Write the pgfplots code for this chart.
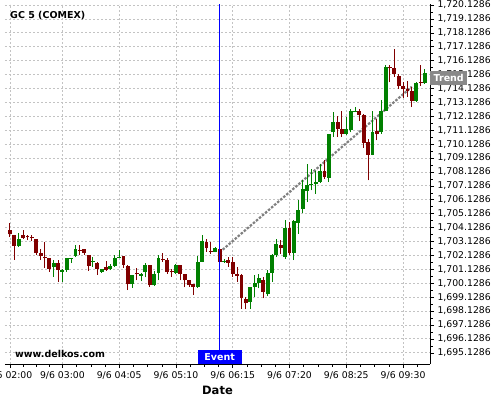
\documentclass[border=0pt]{standalone}
\usepackage{pgfplots}
\usepackage{pgfplotstable}
\pgfplotsset{compat=1.18}
\usepackage{fontspec}
\setmainfont{DejaVu Sans}
\definecolor{cgreen}{RGB}{0,128,0}
\definecolor{cred}{RGB}{128,0,0}
\definecolor{gridc}{RGB}{195,195,195}
\definecolor{trendc}{RGB}{128,128,128}
\definecolor{trendbox}{RGB}{136,136,136}

\pgfplotstableread{
m O H L C
10 1702.80 1703.76 1702.73 1703.33
50 1701.30 1701.83 1700.58 1701.61
60 1700.94 1701.12 1700.22 1701.08
65 1701.08 1701.92 1700.94 1701.92
70 1701.87 1701.94 1701.58 1701.94
75 1702.09 1702.91 1702.00 1702.57
95 1701.66 1702.01 1701.30 1701.73
105 1700.94 1701.13 1700.87 1701.13
115 1701.13 1701.54 1701.06 1701.37
120 1701.37 1702.19 1701.32 1701.94
125 1701.94 1702.50 1701.94 1702.01
140 1700.04 1700.75 1699.79 1700.75
150 1700.65 1700.85 1700.27 1700.82
155 1700.94 1701.61 1700.54 1701.42
165 1699.98 1701.01 1699.91 1700.77
170 1700.87 1702.14 1700.34 1701.94
190 1700.87 1701.49 1700.80 1701.42
215 1699.86 1702.09 1699.79 1701.66
220 1701.66 1703.62 1701.64 1703.16
235 1702.38 1702.70 1702.35 1702.64
245 1701.69 1701.90 1701.58 1701.76
275 1698.79 1699.87 1698.31 1699.82
280 1699.82 1700.70 1699.15 1700.11
285 1700.11 1700.82 1699.75 1700.49
295 1699.34 1701.06 1699.20 1700.89
300 1700.89 1702.26 1700.23 1702.14
305 1702.14 1703.33 1702.02 1702.93
315 1702.02 1704.65 1701.90 1704.12
325 1702.31 1704.65 1701.78 1704.58
330 1704.46 1706.08 1703.69 1705.37
335 1705.49 1707.52 1705.17 1706.87
340 1706.75 1708.71 1705.96 1707.16
345 1707.19 1708.35 1706.80 1707.26
350 1707.23 1708.23 1706.56 1707.40
355 1707.40 1708.71 1707.33 1708.23
365 1707.71 1710.87 1707.40 1710.82
370 1710.98 1712.47 1710.63 1711.75
385 1710.87 1712.06 1710.75 1711.18
390 1711.15 1712.66 1710.98 1712.49
395 1712.46 1712.78 1712.42 1712.53
415 1709.38 1712.54 1709.31 1710.98
425 1710.98 1713.30 1710.87 1712.54
430 1712.54 1715.84 1712.49 1715.65
465 1713.21 1714.60 1713.14 1714.55
475 1714.50 1715.53 1714.45 1715.26
}\greentab

\pgfplotstableread{
m O H L C
0 1703.93 1704.43 1703.45 1703.64
5 1703.57 1703.62 1701.83 1702.80
15 1703.57 1703.93 1703.30 1703.41
20 1703.49 1703.62 1703.21 1703.42
25 1703.45 1703.62 1703.16 1703.38
30 1703.28 1703.30 1702.14 1702.33
35 1702.28 1702.62 1701.78 1702.09
40 1702.00 1703.09 1701.23 1701.93
45 1701.92 1701.95 1700.94 1701.15
55 1701.56 1701.78 1700.22 1701.08
80 1702.55 1702.85 1702.14 1702.48
85 1702.59 1702.62 1702.19 1702.31
90 1702.14 1702.16 1701.01 1701.37
100 1701.61 1701.63 1700.75 1701.13
110 1701.30 1701.76 1701.03 1701.11
130 1702.06 1702.08 1701.23 1701.47
135 1701.35 1701.47 1699.63 1700.04
145 1700.85 1701.25 1700.34 1700.78
160 1701.42 1701.44 1699.86 1699.98
175 1701.90 1702.33 1701.68 1701.83
180 1701.80 1701.97 1700.80 1700.94
185 1700.98 1701.18 1700.58 1700.91
195 1701.42 1701.44 1700.34 1700.77
200 1700.77 1700.79 1699.82 1700.34
205 1700.34 1700.36 1699.86 1699.98
210 1700.05 1700.07 1699.27 1699.86
225 1703.09 1703.30 1702.38 1702.66
230 1702.42 1703.09 1702.23 1702.35
240 1702.62 1702.70 1701.60 1701.66
250 1701.78 1702.02 1701.30 1701.59
255 1701.64 1702.02 1700.58 1700.82
260 1700.82 1701.30 1700.23 1700.68
265 1700.75 1700.77 1698.31 1699.03
270 1698.96 1699.15 1698.24 1698.67
290 1700.34 1700.58 1699.03 1699.51
310 1702.88 1703.21 1702.26 1702.69
320 1704.12 1704.53 1702.14 1702.31
360 1708.16 1709.00 1707.64 1707.76
375 1711.75 1712.18 1710.63 1711.18
380 1711.18 1712.49 1710.67 1710.87
400 1712.54 1712.66 1711.82 1712.25
405 1712.25 1712.27 1709.86 1710.20
410 1710.27 1710.51 1707.52 1709.38
420 1711.06 1711.94 1710.39 1710.87
435 1715.64 1715.84 1714.57 1715.57
440 1715.60 1716.96 1714.98 1715.17
445 1715.05 1715.17 1714.09 1714.28
450 1714.33 1714.57 1713.45 1714.09
455 1714.09 1714.69 1713.50 1713.97
460 1713.97 1714.21 1712.83 1713.21
470 1714.62 1715.84 1714.33 1714.55
}\redtab

\begin{document}
\begin{tikzpicture}
\begin{axis}[
  name=ax, scale only axis, width=425pt, height=360pt,
  xmin=-5.7, xmax=480.8, ymin=1694.32, ymax=1720.2,
  axis x line*=bottom, axis y line*=right,
  axis line style={-, black, line width=1pt},
  tick align=outside, major tick length=4pt, minor tick length=2.5pt,
  tick style={black, line width=0.5pt},
  xtick={0,60,125,190,255,320,385,450},
  xticklabels={9/6 02:00,9/6 03:00,9/6 04:05,9/6 05:10,9/6 06:15,9/6 07:20,9/6 08:25,9/6 09:30},
  minor xtick={15,30,45,76.25,92.5,108.75,141.25,157.5,173.75,206.25,222.5,238.75,271.25,287.5,303.75,336.25,352.5,368.75,401.25,417.5,433.75,466.25},
  ytick={1695.1286,1696.1286,1697.1286,1698.1286,1699.1286,1700.1286,1701.1286,1702.1286,1703.1286,1704.1286,1705.1286,1706.1286,1707.1286,1708.1286,1709.1286,1710.1286,1711.1286,1712.1286,1713.1286,1714.1286,1715.1286,1716.1286,1717.1286,1718.1286,1719.1286,1720.1286},
  yticklabels={{1,695.1286},{1,696.1286},{1,697.1286},{1,698.1286},{1,699.1286},{1,700.1286},{1,701.1286},{1,702.1286},{1,703.1286},{1,704.1286},{1,705.1286},{1,706.1286},{1,707.1286},{1,708.1286},{1,709.1286},{1,710.1286},{1,711.1286},{1,712.1286},{1,713.1286},{1,714.1286},{1,715.1286},{1,716.1286},{1,717.1286},{1,718.1286},{1,719.1286},{1,720.1286}},
  minor y tick num=1,
  grid=major,
  major grid style={gridc, dash pattern=on 2pt off 2pt, line width=0.8pt},
  ticklabel style={font=\fontsize{9.3}{11}\selectfont},
  xlabel={Date},
  xlabel style={font=\bfseries\fontsize{11.5}{13}\selectfont},
  clip mode=individual,
]
\addplot[trendc, line width=2.2pt, dash pattern=on 2.5pt off 1.5pt] coordinates {(240,1702.35) (460,1714.25)};

\addplot[draw=none, mark=none, error bars/.cd, y dir=plus, y explicit, error mark=none,
  error bar style={line width=1pt, draw=cgreen}]
  table[x=m, y=L, y error plus expr=\thisrow{H}-\thisrow{L}] {\greentab};
\addplot[draw=none, mark=none, error bars/.cd, y dir=plus, y explicit, error mark=none,
  error bar style={line width=3.9pt, draw=cgreen}]
  table[x=m, y=O, y error plus expr=\thisrow{C}-\thisrow{O}] {\greentab};
\addplot[draw=none, mark=none, error bars/.cd, y dir=plus, y explicit, error mark=none,
  error bar style={line width=1pt, draw=cred}]
  table[x=m, y=L, y error plus expr=\thisrow{H}-\thisrow{L}] {\redtab};
\addplot[draw=none, mark=none, error bars/.cd, y dir=plus, y explicit, error mark=none,
  error bar style={line width=3.9pt, draw=cred}]
  table[x=m, y=C, y error plus expr=\thisrow{O}-\thisrow{C}] {\redtab};

\addplot[blue, line width=1pt] coordinates {(240,1694.32) (240,1720.2)};

\node[anchor=west, font=\bfseries\fontsize{9.5}{11}\selectfont, inner sep=0pt] at (rel axis cs:0.0118,0.967) {GC 5 (COMEX)};
\node[anchor=west, font=\bfseries\fontsize{9.5}{11}\selectfont, inner sep=0pt] at (rel axis cs:0.0235,0.028) {www.delkos.com};
\node[anchor=south, fill=blue, text=white, font=\bfseries\fontsize{9.5}{11}\selectfont, inner sep=0pt, minimum width=44pt, minimum height=14pt] at (axis cs:240,1694.32) {Event};
\node[anchor=west, fill=trendbox, text=white, font=\bfseries\fontsize{9.5}{11}\selectfont, inner sep=0pt, minimum width=37pt, minimum height=14pt] at (axis cs:480.8,1714.87) {Trend};
\end{axis}
\pgfresetboundingbox
\path (ax.south west) ++(-5pt,-36pt) rectangle ++(500pt,400pt);
\end{tikzpicture}
\end{document}
